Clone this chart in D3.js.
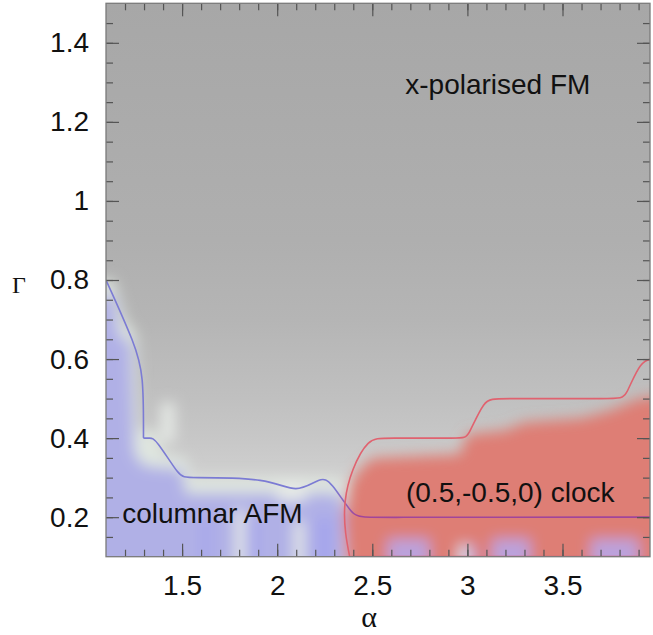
<!DOCTYPE html>
<html lang="en">

<head>
    <meta charset="UTF-8">
    <title>Phase diagram</title>
    <script src="https://d3js.org/d3.v7.min.js"></script>
    <style>
        html,
        body {
            margin: 0;
            background: #fff;
        }

        .axis text {
            font-family: "Liberation Sans", Arial, Helvetica, sans-serif;
            font-size: 28px;
            fill: #111;
        }

        .axis path {
            display: none;
        }

        .axis line {
            stroke: #555;
            stroke-width: 1.2;
        }

        .region-label {
            font-family: "Liberation Sans", Arial, Helvetica, sans-serif;
            font-size: 28px;
            fill: #111;
        }

        .axis-title {
            font-family: "Liberation Serif", "Times New Roman", serif;
            fill: #111;
        }
    </style>
</head>

<body>
    <div id="chart"></div>
    <script>
        // ticks
        var alphaTicks = [1.5, 2, 2.5, 3, 3.5];
        var alphaMinor = d3.range(1.2, 3.96, 0.1);
        var gammaTicks = [0.2, 0.4, 0.6, 0.8, 1, 1.2, 1.4];
        var gammaMinor = d3.range(0.15, 1.5, 0.05);

        // grey background (x-polarised FM), shade by Gamma
        var shadeGamma = [1.5, 1.2, 0.9, 0.7, 0.5, 0.4, 0.3, 0.1];
        var shadeGrey = [167, 171, 175, 181, 192, 199, 208, 214];

        // blurred phase regions, points are [alpha, Gamma]
        var haloRegion = [[0.9, 0.0], [0.9, 0.8], [1.14, 0.8], [1.2, 0.7], [1.26, 0.66], [1.27, 0.42], [1.36, 0.42],
            [1.4, 0.36], [1.52, 0.35], [1.55, 0.3], [2.3, 0.3], [2.36, 0.29], [2.37, 0.0]];
        var afmRegion = [[0.9, 0.0], [0.9, 0.76], [1.14, 0.76], [1.17, 0.66], [1.23, 0.64], [1.24, 0.5], [1.25, 0.36],
            [1.3, 0.33], [1.5, 0.32], [1.52, 0.26], [2.32, 0.26], [2.35, 0.22], [2.35, 0.0]];
        var clockRegion = [[2.37, 0.0], [2.35, 0.2], [2.38, 0.28], [2.43, 0.32], [2.5, 0.35], [2.96, 0.36], [3.0, 0.41],
            [3.2, 0.42], [3.3, 0.44], [3.6, 0.45], [3.75, 0.47], [3.9, 0.5], [4.2, 0.52], [4.2, 0.0]];
        // small patches: [alpha0, alpha1, Gamma0, Gamma1]
        var whitePatches = [[1.39, 1.46, 0.39, 0.49], [1.78, 1.83, 0.0, 0.22], [2.09, 2.14, 0.0, 0.19],
            [2.0, 2.15, 0.24, 0.29], [2.96, 3.0, 0.0, 0.13]];
        var bluePatches = [[1.6, 1.65, 0.0, 0.2], [1.86, 1.9, 0.0, 0.19], [2.2, 2.3, 0.0, 0.2]];
        var purplePatches = [[2.58, 2.8, 0.0, 0.145], [2.95, 3.04, 0.0, 0.13], [3.13, 3.33, 0.0, 0.145],
            [3.65, 3.9, 0.0, 0.145]];

        // phase boundaries (B-spline control points)
        var afmLine = [[1.1, 0.8], [1.1, 0.8], [1.1, 0.8], [1.255, 0.635], [1.297, 0.56], [1.297, 0.41],
            [1.297, 0.4], [1.297, 0.4], [1.33, 0.4], [1.36, 0.4], [1.49, 0.3], [1.52, 0.3], [1.96, 0.3],
            [2.1, 0.258], [2.23, 0.302], [2.28, 0.292], [2.405, 0.198], [2.45, 0.2], [3.97, 0.2], [3.97, 0.2]];
        var clockLine = [[2.39, 0.08], [2.39, 0.08], [2.355, 0.16], [2.35, 0.24], [2.39, 0.32], [2.48, 0.4],
            [2.56, 0.4], [2.98, 0.4], [3.0, 0.4], [3.09, 0.5], [3.15, 0.5], [3.8, 0.5], [3.83, 0.5],
            [3.91, 0.6], [3.99, 0.6], [3.99, 0.6]];

        // labels: [text, alpha, Gamma, anchor]
        var regionLabels = [["x-polarised FM", 3.16, 1.27, "middle"], ["(0.5,-0.5,0) clock", 2.677, 0.238, "start"],
            ["columnar AFM", 1.185, 0.186, "start"]];

        var width = 653;
        var height = 635;
        var margin = { top: 3.3, bottom: 78.3, left: 106, right: 3 };

        var svg = d3.select('#chart')
            .append('svg')
            .attr('width', width)
            .attr('height', height);

        var x = d3.scaleLinear()
            .domain([1.1, 3.96])
            .range([margin.left, width - margin.right]);
        var y = d3.scaleLinear()
            .domain([0.1, 1.5])
            .range([height - margin.bottom, margin.top]);

        var defs = svg.append('defs');

        var grad = defs.append('linearGradient')
            .attr('id', 'fmShade')
            .attr('gradientUnits', 'userSpaceOnUse')
            .attr('x1', 0).attr('x2', 0)
            .attr('y1', y(1.5)).attr('y2', y(0.1));
        grad.selectAll('stop')
            .data(shadeGamma)
            .enter().append('stop')
            .attr('offset', function (d) { return (1.5 - d) / 1.4; })
            .attr('stop-color', function (d, i) {
                var g = shadeGrey[i];
                return d3.rgb(g, g, g);
            });

        defs.append('clipPath')
            .attr('id', 'plotClip')
            .append('rect')
            .attr('x', x(1.1)).attr('y', y(1.5))
            .attr('width', x(3.96) - x(1.1))
            .attr('height', y(0.1) - y(1.5));

        defs.append('filter')
            .attr('id', 'soft')
            .attr('filterUnits', 'userSpaceOnUse')
            .attr('x', -100).attr('y', -100)
            .attr('width', width + 200).attr('height', height + 200)
            .append('feGaussianBlur')
            .attr('stdDeviation', 7);

        var lineGrad = defs.append('linearGradient')
            .attr('id', 'afmStroke')
            .attr('gradientUnits', 'userSpaceOnUse')
            .attr('x1', x(2.3)).attr('x2', x(2.42))
            .attr('y1', 0).attr('y2', 0);
        lineGrad.append('stop').attr('offset', 0).attr('stop-color', '#7b7bd4');
        lineGrad.append('stop').attr('offset', 1).attr('stop-color', '#a1459a');

        var plot = svg.append('g')
            .attr('clip-path', 'url(#plotClip)');

        plot.append('rect')
            .attr('x', x(1.1)).attr('y', y(1.5))
            .attr('width', x(3.96) - x(1.1))
            .attr('height', y(0.1) - y(1.5))
            .attr('fill', 'url(#fmShade)');

        var heat = plot.append('g')
            .attr('filter', 'url(#soft)');

        var poly = d3.line()
            .x(function (d) { return x(d[0]); })
            .y(function (d) { return y(d[1]); });

        heat.append('path').attr('d', poly(haloRegion) + 'Z').attr('fill', '#dfe6df');
        heat.append('path').attr('d', poly(afmRegion) + 'Z').attr('fill', '#b0b0e6');
        heat.append('path').attr('d', poly(clockRegion) + 'Z').attr('fill', '#de7e75');

        function patches(list, colour) {
            heat.selectAll(null)
                .data(list)
                .enter().append('rect')
                .attr('x', function (d) { return x(d[0]); })
                .attr('width', function (d) { return x(d[1]) - x(d[0]); })
                .attr('y', function (d) { return y(d[3]); })
                .attr('height', function (d) { return y(d[2]) - y(d[3]); })
                .attr('fill', colour);
        }
        patches(purplePatches, '#bba2dc');
        patches(whitePatches, '#e6eae6');
        patches(bluePatches, '#a6a6ec');

        var curve = d3.line()
            .curve(d3.curveBasis)
            .x(function (d) { return x(d[0]); })
            .y(function (d) { return y(d[1]); });

        plot.append('path')
            .attr('d', curve(afmLine))
            .attr('fill', 'none')
            .attr('stroke', 'url(#afmStroke)')
            .attr('stroke-width', 1.6);

        plot.append('path')
            .attr('d', curve(clockLine))
            .attr('fill', 'none')
            .attr('stroke', '#e0626f')
            .attr('stroke-width', 1.6);

        plot.append('path')
            .attr('d', poly([[2.39, 0.1], [3.97, 0.1]]))
            .attr('fill', 'none')
            .attr('stroke', '#d0607a')
            .attr('stroke-width', 2);

        // region labels
        svg.selectAll('.region-label')
            .data(regionLabels)
            .enter().append('text')
            .attr('class', 'region-label')
            .attr('x', function (d) { return x(d[1]); })
            .attr('y', function (d) { return y(d[2]); })
            .attr('text-anchor', function (d) { return d[3]; })
            .text(function (d) { return d[0]; });

        // axes, ticks pointing inside
        var x0 = x(1.1), x1 = x(3.96), y0 = y(0.1), y1 = y(1.5);

        svg.append('g').attr('class', 'axis')
            .attr('transform', 'translate(0,' + y0 + ')')
            .call(d3.axisBottom(x).tickValues(alphaTicks).tickSize(-13).tickPadding(18).tickFormat(d3.format('')));
        svg.append('g').attr('class', 'axis')
            .attr('transform', 'translate(0,' + y0 + ')')
            .call(d3.axisBottom(x).tickValues(alphaMinor).tickSize(-7).tickFormat(''));
        svg.append('g').attr('class', 'axis')
            .attr('transform', 'translate(0,' + y1 + ')')
            .call(d3.axisTop(x).tickValues(alphaTicks).tickSize(-13).tickFormat(''));
        svg.append('g').attr('class', 'axis')
            .attr('transform', 'translate(0,' + y1 + ')')
            .call(d3.axisTop(x).tickValues(alphaMinor).tickSize(-7).tickFormat(''));

        svg.append('g').attr('class', 'axis')
            .attr('transform', 'translate(' + x0 + ',0)')
            .call(d3.axisLeft(y).tickValues(gammaTicks).tickSize(-13).tickPadding(17).tickFormat(d3.format('')));
        svg.append('g').attr('class', 'axis')
            .attr('transform', 'translate(' + x0 + ',0)')
            .call(d3.axisLeft(y).tickValues(gammaMinor).tickSize(-7).tickFormat(''));
        svg.append('g').attr('class', 'axis')
            .attr('transform', 'translate(' + x1 + ',0)')
            .call(d3.axisRight(y).tickValues(gammaTicks).tickSize(-13).tickFormat(''));
        svg.append('g').attr('class', 'axis')
            .attr('transform', 'translate(' + x1 + ',0)')
            .call(d3.axisRight(y).tickValues(gammaMinor).tickSize(-7).tickFormat(''));

        // frame
        svg.append('rect')
            .attr('x', x0).attr('y', y1)
            .attr('width', x1 - x0).attr('height', y0 - y1)
            .attr('fill', 'none')
            .attr('stroke', '#7a7a7a')
            .attr('stroke-width', 1.3);

        svg.append('text')
            .attr('class', 'axis-title')
            .attr('x', 369).attr('y', 627)
            .attr('text-anchor', 'middle')
            .style('font-size', '30px')
            .text('α');

        svg.append('text')
            .attr('class', 'axis-title')
            .attr('x', 19).attr('y', 293)
            .attr('text-anchor', 'middle')
            .style('font-size', '24px')
            .text('Γ');
    </script>
</body>

</html>
